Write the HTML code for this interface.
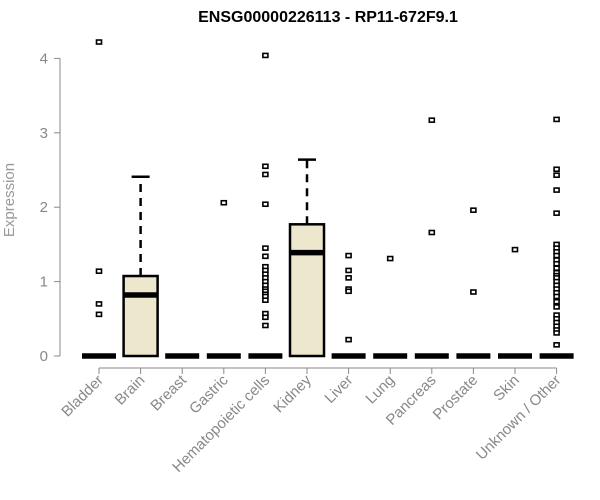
<!DOCTYPE html>
<html><head><meta charset="utf-8"><style>
body{margin:0;background:#fff;}
svg{display:block;font-family:"Liberation Sans",Arial,sans-serif;}
</style></head><body>
<svg id="chart" width="600" height="500">
<text x="328" y="22" text-anchor="middle" font-weight="bold" font-size="16">ENSG00000226113 - RP11-672F9.1</text>
<text transform="translate(14,200) rotate(-90)" text-anchor="middle" font-size="15" fill="#999">Expression</text>
<g id="axes"></g>
<g id="marks"></g>
</svg>
<script>
const categories=["Bladder","Brain","Breast","Gastric","Hematopoietic cells","Kidney","Liver","Lung","Pancreas","Prostate","Skin","Unknown / Other"];
const q1s=[0,0,0,0,0,0,0,0,0,0,0,0];
const medians=[0,0.82,0,0,0,1.39,0,0,0,0,0,0];
const q3s=[0,1.075,0,0,0,1.77,0,0,0,0,0,0];
const whiskerHigh=[0,2.41,0,0,0,2.64,0,0,0,0,0,0];
const outliers=[
[4.22,1.14,0.70,0.56],
[],
[],
[2.06],
[4.04,2.55,2.44,2.04,1.45,1.34,1.2,1.15,1.1,1.05,1.0,0.95,0.9,0.87,0.83,0.8,0.75,0.57,0.52,0.41],
[],
[1.35,1.15,1.05,0.9,0.87,0.22],
[1.31],
[3.17,1.66],
[1.96,0.86],
[1.43],
[3.18,2.51,2.43,2.23,1.92,1.5,1.45,1.4,1.35,1.29,1.24,1.18,1.12,1.08,1.05,1.0,0.95,0.9,0.85,0.8,0.73,0.66,0.55,0.5,0.45,0.4,0.35,0.31,0.15]
];
const yTicks=[0,1,2,3,4];
const NS="http://www.w3.org/2000/svg";
const y=v=>356-v*74.4;
const x=i=>99+i*41.6;
const axes=document.getElementById('axes'),marks=document.getElementById('marks');
function mk(tag,attrs,parent){const e=document.createElementNS(NS,tag);for(const k in attrs)e.setAttribute(k,attrs[k]);parent.appendChild(e);return e;}
let e=mk('line',{x1:60,x2:60,y1:y(4),y2:y(0),stroke:'#888'},axes);


yTicks.forEach(t=>{
 mk('line',{x1:54,x2:60,y1:y(t),y2:y(t),stroke:'#888'},axes);
 const tx=mk('text',{x:48,y:y(t)+5,'text-anchor':'end','font-size':15,fill:'#888'},axes);
 tx.textContent=t;
 
 
});
e=mk('line',{x1:x(0),x2:x(11),y1:368,y2:368,stroke:'#888'},axes);


categories.forEach((c,i)=>{
 mk('line',{x1:x(i),x2:x(i),y1:368,y2:374,stroke:'#888'},axes);
 const tx=mk('text',{x:x(i)+5,y:381,'text-anchor':'end','font-size':15,fill:'#888',transform:`rotate(-45 ${x(i)+5} 381)`},axes);
 tx.textContent=c;
 
 
 const g=mk('g',{},marks);
 
 
 const cx=x(i),hw=17;
 if(whiskerHigh[i]>q3s[i]){
  mk('line',{x1:cx,x2:cx,y1:y(q3s[i]),y2:y(whiskerHigh[i]),stroke:'#000','stroke-width':2.5,'stroke-dasharray':'8,6'},g);
  mk('line',{x1:cx-9,x2:cx+9,y1:y(whiskerHigh[i]),y2:y(whiskerHigh[i]),stroke:'#000','stroke-width':2.5},g);
 }
 if(q3s[i]>q1s[i]){
  mk('rect',{x:cx-hw,y:y(q3s[i]),width:hw*2,height:y(q1s[i])-y(q3s[i]),fill:'#ede7cd',stroke:'#000','stroke-width':2.5},g);
 }
 mk('line',{x1:cx-hw,x2:cx+hw,y1:y(medians[i]),y2:y(medians[i]),stroke:'#000','stroke-width':5.5},g);
 outliers[i].forEach(v=>{
  const r=mk('rect',{x:cx-2.5,y:y(v)-2,width:5,height:4,fill:'#fff',stroke:'#000','stroke-width':1.6},g);
  
  
 });
});
</script>
</body></html>
